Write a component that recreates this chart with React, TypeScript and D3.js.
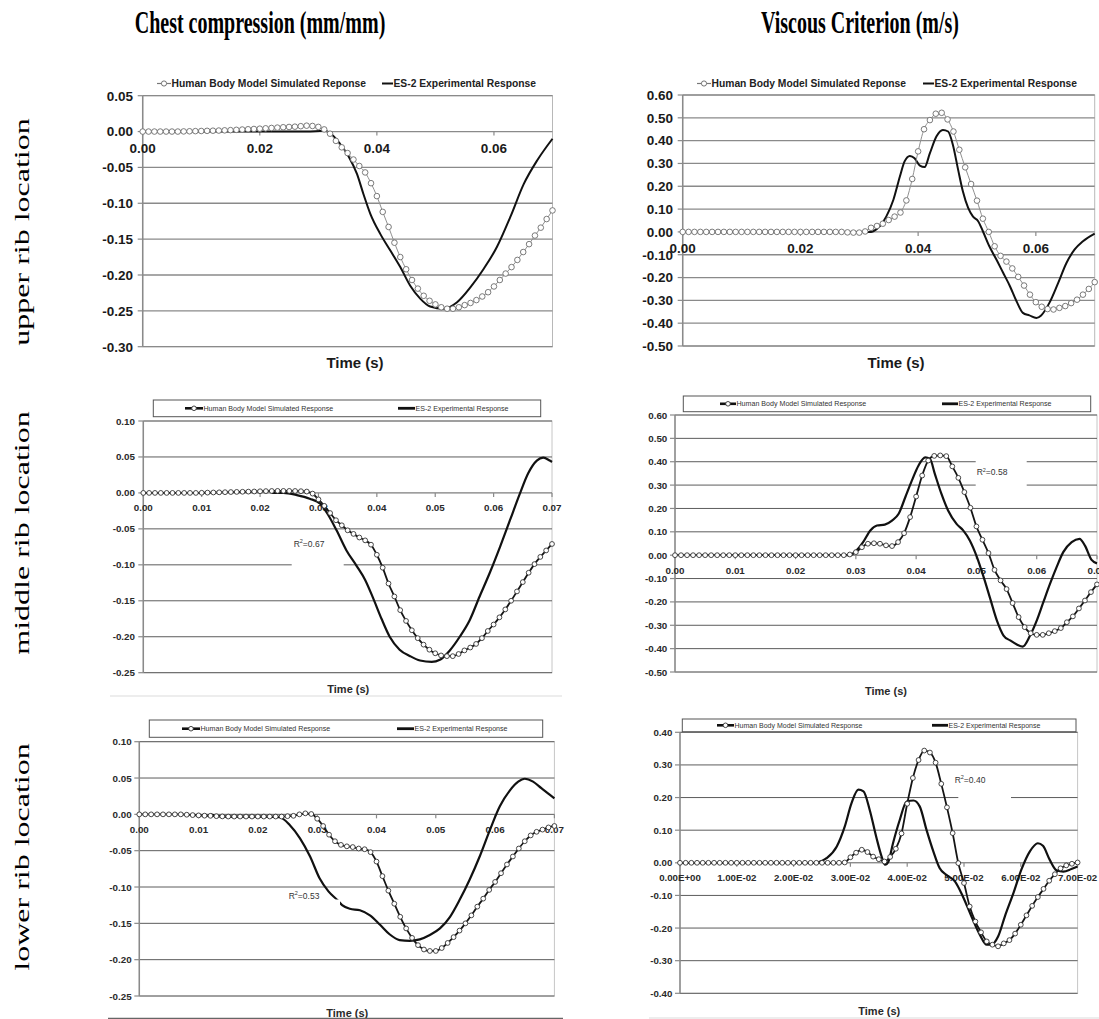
import * as d3 from "d3";

// sampling grid of the simulated responses (one marker per ms)
const TIME = d3.range(71).map((i) => i / 1000);

// tick values
const ccTopTicks = [0.05, 0, -0.05, -0.1, -0.15, -0.2, -0.25, -0.3];
const ccTicks = [0.1, 0.05, 0, -0.05, -0.1, -0.15, -0.2, -0.25];
const vcTicks = [0.6, 0.5, 0.4, 0.3, 0.2, 0.1, 0, -0.1, -0.2, -0.3, -0.4, -0.5];
const vcLowerTicks = [0.4, 0.3, 0.2, 0.1, 0, -0.1, -0.2, -0.3, -0.4];
const timeTicksCoarse = [0, 0.02, 0.04, 0.06];
const timeTicks = [0, 0.01, 0.02, 0.03, 0.04, 0.05, 0.06, 0.07];

const LEGEND_SIM_TOP = "Human Body Model Simulated Reponse";
const LEGEND_SIM = "Human Body Model Simulated Response";
const LEGEND_EXP = "ES-2 Experimental Response";

// simulated (human body model) responses, one value per TIME entry
const simUpperCC = [
  0, 0, 0, 0, 0, 0, 0, 0.0002, 0.0004, 0.0006,
  0.0008, 0.001, 0.0012, 0.0014, 0.0017, 0.002, 0.0024, 0.0028, 0.0032, 0.0036,
  0.004, 0.0045, 0.005, 0.0055, 0.006, 0.0064, 0.0068, 0.0075, 0.0082, 0.0078,
  0.0065, 0.003, -0.003, -0.013, -0.022, -0.03, -0.039, -0.048, -0.057, -0.072,
  -0.09, -0.112, -0.133, -0.155, -0.175, -0.192, -0.207, -0.219, -0.229, -0.236,
  -0.241, -0.245, -0.247, -0.247, -0.245, -0.242, -0.239, -0.235, -0.23, -0.224,
  -0.216, -0.207, -0.198, -0.189, -0.179, -0.168, -0.157, -0.145, -0.134, -0.122,
  -0.11,
];
const simUpperVC = [
  0, 0, 0, 0, 0, 0, 0, 0, 0, 0,
  0, 0, 0, 0, 0, 0, 0, 0, 0, 0,
  0, 0, 0, 0, 0, 0, 0, 0, -0.002, -0.003,
  -0.003, 0.002, 0.018, 0.026, 0.036, 0.052, 0.067, 0.085, 0.138, 0.232,
  0.353, 0.45, 0.49, 0.518, 0.522, 0.493, 0.44, 0.36, 0.283, 0.21,
  0.137, 0.058, 0, -0.063, -0.105, -0.13, -0.16, -0.197, -0.235, -0.275,
  -0.308, -0.328, -0.338, -0.34, -0.333, -0.325, -0.312, -0.297, -0.275, -0.25,
  -0.22,
];
const simMiddleCC = [
  0, 0, 0, 0, 0, 0, 0, 0, 0, 0,
  0.0002, 0.0004, 0.0006, 0.0008, 0.001, 0.0012, 0.0014, 0.0016, 0.0018, 0.002,
  0.0023, 0.0025, 0.0027, 0.0028, 0.0028, 0.0028, 0.0027, 0.0024, 0.0019, -0.001,
  -0.009, -0.018, -0.028, -0.038, -0.045, -0.052, -0.057, -0.062, -0.066, -0.072,
  -0.086, -0.104, -0.126, -0.144, -0.163, -0.178, -0.191, -0.202, -0.211, -0.218,
  -0.223, -0.226, -0.227, -0.227, -0.224, -0.219, -0.215, -0.21, -0.202, -0.192,
  -0.183, -0.173, -0.162, -0.15, -0.137, -0.124, -0.111, -0.099, -0.089, -0.08,
  -0.071,
];
const simMiddleVC = [
  0, 0, 0, 0, 0, 0, 0, 0, 0, 0,
  0, 0, 0, 0, 0, 0, 0, 0, 0, 0,
  0, 0, 0, 0, 0, 0, 0, 0, 0, 0.003,
  0.013, 0.034, 0.049, 0.051, 0.049, 0.042, 0.039, 0.056, 0.094, 0.163,
  0.251, 0.341, 0.405, 0.425, 0.427, 0.424, 0.38, 0.331, 0.27, 0.203,
  0.123, 0.066, 0.009, -0.063, -0.108, -0.145, -0.205, -0.265, -0.308, -0.334,
  -0.341, -0.341, -0.334, -0.325, -0.312, -0.287, -0.262, -0.228, -0.194, -0.158,
  -0.125,
];
const simLowerCC = [
  0, 0, 0, 0, 0, 0, 0, 0, -0.0005, -0.001,
  -0.0014, -0.0018, -0.002, -0.0025, -0.0028, -0.003, -0.003, -0.003, -0.003, -0.003,
  -0.003, -0.003, -0.003, -0.003, -0.003, -0.0025, -0.002, 0, 0.0014, 0.0005,
  -0.006, -0.016, -0.028, -0.037, -0.042, -0.044, -0.045, -0.047, -0.048, -0.052,
  -0.065, -0.085, -0.105, -0.123, -0.141, -0.157, -0.17, -0.18, -0.186, -0.188,
  -0.188, -0.184, -0.177, -0.169, -0.16, -0.15, -0.139, -0.127, -0.116, -0.104,
  -0.093, -0.081, -0.069, -0.058, -0.047, -0.037, -0.029, -0.024, -0.021, -0.018,
  -0.016,
];
const simLowerVC = [
  0, 0, 0, 0, 0, 0, 0, 0, 0, 0,
  0, 0, 0, 0, 0, 0, 0, 0, 0, 0,
  0, 0, 0, 0, 0, 0, 0, 0, 0, 0.001,
  0.017, 0.031, 0.04, 0.033, 0.019, 0.011, 0.004, 0.018, 0.043, 0.09,
  0.181, 0.26, 0.315, 0.344, 0.338, 0.307, 0.242, 0.17, 0.091, -0.001,
  -0.062, -0.134, -0.18, -0.213, -0.241, -0.251, -0.256, -0.247, -0.237, -0.217,
  -0.19, -0.161, -0.132, -0.105, -0.08, -0.055, -0.035, -0.017, -0.008, -0.003,
  0.001,
];

// ES-2 experimental responses, [time, value]
const expUpperCC: [number, number][] = [
  [0, 0], [0.028, 0], [0.031, 0.001], [0.032, -0.002], [0.0337, -0.017], [0.0352, -0.035],
  [0.0366, -0.059], [0.0377, -0.087], [0.0389, -0.115], [0.0406, -0.143], [0.0423, -0.166],
  [0.044, -0.189], [0.0457, -0.215], [0.0474, -0.233], [0.0491, -0.244], [0.0514, -0.247],
  [0.0537, -0.238], [0.056, -0.217], [0.0582, -0.192], [0.0605, -0.161], [0.0628, -0.119],
  [0.0651, -0.073], [0.0674, -0.04], [0.07, -0.01],
];
const expUpperVC: [number, number][] = [
  [0, 0], [0.032, 0], [0.0324, 0.003], [0.0335, 0.025], [0.0346, 0.068], [0.0358, 0.141],
  [0.0369, 0.243], [0.0377, 0.309], [0.0386, 0.333], [0.0394, 0.323], [0.0403, 0.29],
  [0.0411, 0.284], [0.042, 0.345], [0.0431, 0.418], [0.0442, 0.447], [0.0451, 0.44],
  [0.0459, 0.382], [0.0468, 0.272], [0.0476, 0.178], [0.0485, 0.105], [0.0493, 0.068],
  [0.0502, 0.047], [0.051, 0.003], [0.0521, -0.063], [0.0533, -0.121], [0.0544, -0.177],
  [0.0556, -0.238], [0.0567, -0.303], [0.0578, -0.355], [0.0589, -0.366], [0.0601, -0.377],
  [0.0609, -0.366], [0.0623, -0.311], [0.0638, -0.223], [0.0652, -0.136], [0.0666, -0.077],
  [0.068, -0.041], [0.07, -0.007],
];
const expMiddleCC: [number, number][] = [
  [0.022, 0], [0.024, 0], [0.0263, -0.003], [0.0285, -0.008], [0.0303, -0.015], [0.0317, -0.031],
  [0.0331, -0.052], [0.0348, -0.08], [0.0365, -0.101], [0.038, -0.121], [0.0394, -0.147],
  [0.0408, -0.175], [0.0422, -0.2], [0.0439, -0.218], [0.0457, -0.227], [0.0474, -0.233],
  [0.0494, -0.235], [0.0508, -0.232], [0.0525, -0.219], [0.0542, -0.2], [0.0559, -0.177],
  [0.0576, -0.144], [0.0594, -0.11], [0.0611, -0.075], [0.0628, -0.038], [0.0645, -0.001],
  [0.0659, 0.027], [0.0674, 0.045], [0.0685, 0.049], [0.0696, 0.045], [0.07, 0.043],
];
const expMiddleVC: [number, number][] = [
  [0.028, 0], [0.029, 0], [0.0301, 0.02], [0.0312, 0.056], [0.0324, 0.106], [0.0335, 0.127],
  [0.0348, 0.131], [0.036, 0.148], [0.0371, 0.177], [0.0382, 0.248], [0.0393, 0.32],
  [0.0404, 0.384], [0.0415, 0.419], [0.0423, 0.412], [0.0431, 0.348], [0.0442, 0.262],
  [0.0453, 0.191], [0.0467, 0.134], [0.0478, 0.106], [0.0489, 0.063], [0.0501, -0.009],
  [0.0512, -0.094], [0.0523, -0.187], [0.0534, -0.28], [0.0545, -0.344], [0.0556, -0.365],
  [0.0567, -0.382], [0.0577, -0.391], [0.0589, -0.344], [0.06, -0.28], [0.0611, -0.201],
  [0.0622, -0.123], [0.0633, -0.051], [0.0644, 0.013], [0.0658, 0.056], [0.0671, 0.07],
  [0.068, 0.041], [0.0691, -0.02], [0.07, -0.035],
];
const expLowerCC: [number, number][] = [
  [0.012, 0], [0.014, -0.003], [0.0215, -0.003], [0.0237, -0.004], [0.0254, -0.015],
  [0.0271, -0.033], [0.0288, -0.058], [0.0304, -0.088], [0.0319, -0.106], [0.0334, -0.118],
  [0.0342, -0.125], [0.0355, -0.13], [0.0372, -0.132], [0.0389, -0.139], [0.0406, -0.152],
  [0.0422, -0.165], [0.0439, -0.173], [0.0456, -0.174], [0.0473, -0.172], [0.049, -0.166],
  [0.0507, -0.157], [0.0524, -0.141], [0.054, -0.118], [0.0557, -0.09], [0.0574, -0.058],
  [0.0591, -0.022], [0.0608, 0.011], [0.0625, 0.033], [0.0639, 0.045], [0.065, 0.049],
  [0.0664, 0.045], [0.0678, 0.036], [0.0692, 0.027], [0.07, 0.022],
];
const expLowerVC: [number, number][] = [
  [0.024, 0], [0.0258, 0.014], [0.0276, 0.05], [0.029, 0.111], [0.0302, 0.183], [0.0314, 0.224],
  [0.0323, 0.219], [0.0334, 0.162], [0.0346, 0.076], [0.0355, 0.019], [0.0361, -0.006],
  [0.0367, 0.004], [0.0375, 0.06], [0.0387, 0.132], [0.0399, 0.188], [0.0411, 0.191],
  [0.0422, 0.173], [0.0434, 0.101], [0.0446, 0.035], [0.0457, -0.016], [0.0469, -0.037],
  [0.0484, -0.057], [0.0498, -0.103], [0.0513, -0.164], [0.0528, -0.221], [0.054, -0.251],
  [0.0548, -0.251], [0.056, -0.226], [0.0572, -0.164], [0.0587, -0.093], [0.0601, -0.021],
  [0.0616, 0.035], [0.063, 0.06], [0.0639, 0.052], [0.0651, 0.009], [0.0663, -0.023],
  [0.0675, -0.027], [0.0689, -0.019], [0.07, -0.011],
];

const SERIF = '"Liberation Serif", "Times New Roman", serif';
const SANS = '"Liberation Sans", Arial, sans-serif';

const fmt2 = (v: number) => v.toFixed(2);
const fmtExp = (v: number) => (v === 0 ? "0.00E+00" : `${(v * 100).toFixed(2)}E-02`);

type Box = [number, number, number, number];

interface PanelCfg {
  kind: "top" | "mid";
  x0: number; x1: number; yTop: number; yBot: number;
  yDomain: [number, number];
  yTicks: number[];
  xTicks: number[];
  xFmt: (v: number) => string;
  sim: number[];
  exp: [number, number][];
  tickFont: number;
  yLabelX: number;
  xLabelDy: number;
  legend: { y: number; simX: number; expX: number; simLen: number; expLen: number; simText: string; font: number; box?: Box };
  time: { x: number; y: number; size: number };
  r2?: { value: string; x: number; y: number; box: Box; onTop?: boolean };
  baseLine?: { y: number; xa: number; xb: number; color: string };
}

const STYLE = {
  top: { grid: "#8a8a8a", gridW: 1.3, border: "#b8b8b8", axis: "#8a8a8a", simLine: "#909090", simW: 1, circ: "#6c6c6c", r: 2.8, expW: 2, text: "#1a1a1a" },
  mid: { grid: "#5c5c5c", gridW: 1, border: "#c6c6c6", axis: "#8a8a8a", simLine: "#151515", simW: 1.8, circ: "#333", r: 2.4, expW: 2.2, text: "#2a2a2a" },
};

function Panel({ cfg }: { cfg: PanelCfg }) {
  const s = STYLE[cfg.kind];
  const x = d3.scaleLinear().domain([0, 0.07]).range([cfg.x0, cfg.x1]);
  const y = d3.scaleLinear().domain(cfg.yDomain).range([cfg.yTop, cfg.yBot]);
  const y0 = y(0);

  const line = d3.line<[number, number]>().x((d) => x(d[0])).y((d) => y(d[1])).curve(d3.curveMonotoneX);
  const simPts: [number, number][] = TIME.map((t, i) => [t, cfg.sim[i]]);

  const lg = cfg.legend;
  const top = cfg.kind === "top";
  const r2 = cfg.r2;
  const r2Box = r2 && (
    <rect x={r2.box[0]} y={r2.box[1]} width={r2.box[2]} height={r2.box[3]} fill="#fff" />
  );

  return (
    <g>
      {/* plot frame + gridlines */}
      <rect x={cfg.x0} y={cfg.yTop} width={cfg.x1 - cfg.x0} height={cfg.yBot - cfg.yTop} fill="none" stroke={s.border} strokeWidth={1} />
      {cfg.yTicks.map((v) => (
        <line key={v} x1={cfg.x0} x2={cfg.x1} y1={y(v)} y2={y(v)} stroke={s.grid} strokeWidth={s.gridW} />
      ))}
      <line x1={cfg.x0} x2={cfg.x0} y1={cfg.yTop} y2={cfg.yBot} stroke={s.axis} strokeWidth={1.5} />
      {cfg.yTicks.map((v) => (
        <line key={"t" + v} x1={cfg.x0 - 5} x2={cfg.x0} y1={y(v)} y2={y(v)} stroke={s.axis} strokeWidth={1.2} />
      ))}
      {cfg.xTicks.map((v) => (
        <line key={"x" + v} x1={x(v)} x2={x(v)} y1={y0} y2={y0 + 4} stroke={s.axis} strokeWidth={1.2} />
      ))}

      {/* tick labels */}
      <g fontFamily={SANS} fontWeight={700} fontSize={cfg.tickFont} fill={s.text}>
        {cfg.yTicks.map((v) => (
          <text key={v} x={cfg.yLabelX} y={y(v)} dy="0.36em" textAnchor="end">{fmt2(v)}</text>
        ))}
        {cfg.xTicks.map((v) => (
          <text key={"x" + v} x={x(v)} y={y0 + cfg.xLabelDy} textAnchor="middle">{cfg.xFmt(v)}</text>
        ))}
      </g>

      {r2 && !r2.onTop && r2Box}

      {/* series */}
      <path d={line(cfg.exp) ?? ""} fill="none" stroke="#111" strokeWidth={s.expW} strokeLinejoin="round" />
      <path d={line(simPts) ?? ""} fill="none" stroke={s.simLine} strokeWidth={s.simW} />
      {simPts.map((d, i) => (
        <circle key={i} cx={x(d[0])} cy={y(d[1])} r={s.r} fill="#fff" stroke={s.circ} strokeWidth={0.9} />
      ))}

      {/* R² label */}
      {r2 && r2.onTop && r2Box}
      {r2 && (
        <text x={r2.x} y={r2.y} dy="0.35em" textAnchor="middle" fontFamily={SANS} fontSize={8.5} fill="#333">
          R<tspan dy={-3.5} fontSize={5.5}>2</tspan><tspan dy={3.5}>={r2.value}</tspan>
        </text>
      )}

      {/* legend */}
      {lg.box && <rect x={lg.box[0]} y={lg.box[1]} width={lg.box[2]} height={lg.box[3]} fill="#fff" stroke="#555" strokeWidth={1} />}
      <g fontFamily={SANS} fontWeight={top ? 700 : 400} fontSize={lg.font} fill={top ? "#222" : "#333"}>
        <line x1={lg.simX} x2={lg.simX + lg.simLen} y1={lg.y} y2={lg.y} stroke={top ? "#777" : "#111"} strokeWidth={top ? 1.2 : 2.6} />
        <circle cx={lg.simX + lg.simLen / 2} cy={lg.y} r={top ? 2.6 : 2.3} fill="#fff" stroke={top ? "#666" : "#333"} strokeWidth={0.9} />
        <text x={lg.simX + lg.simLen + 0.5} y={lg.y} dy="0.35em">{lg.simText}</text>
        <line x1={lg.expX} x2={lg.expX + lg.expLen} y1={lg.y} y2={lg.y} stroke="#111" strokeWidth={top ? 2 : 2.8} />
        <text x={lg.expX + lg.expLen + 0.5} y={lg.y} dy="0.35em">{LEGEND_EXP}</text>
      </g>

      <text x={cfg.time.x} y={cfg.time.y} textAnchor="middle" fontFamily={SANS} fontWeight={700} fontSize={cfg.time.size} fill={s.text}>Time (s)</text>

      {cfg.baseLine && (
        <line x1={cfg.baseLine.xa} x2={cfg.baseLine.xb} y1={cfg.baseLine.y} y2={cfg.baseLine.y} stroke={cfg.baseLine.color} strokeWidth={1.2} />
      )}
    </g>
  );
}

const panels: PanelCfg[] = [
  {
    kind: "top", x0: 142.7, x1: 552.5, yTop: 95.7, yBot: 346.7, yDomain: [0.05, -0.3],
    yTicks: ccTopTicks, xTicks: timeTicksCoarse, xFmt: fmt2, sim: simUpperCC, exp: expUpperCC,
    tickFont: 13.5, yLabelX: 133, xLabelDy: 21,
    legend: { y: 83.5, simX: 157, expX: 382, simLen: 14, expLen: 11, simText: LEGEND_SIM_TOP, font: 10.3 },
    time: { x: 355, y: 368, size: 15 },
  },
  {
    kind: "top", x0: 682.7, x1: 1094.7, yTop: 95, yBot: 346, yDomain: [0.6, -0.5],
    yTicks: vcTicks, xTicks: timeTicksCoarse, xFmt: fmt2, sim: simUpperVC, exp: expUpperVC,
    tickFont: 13.5, yLabelX: 673, xLabelDy: 21,
    legend: { y: 83.5, simX: 697, expX: 923, simLen: 14, expLen: 11, simText: LEGEND_SIM_TOP, font: 10.3 },
    time: { x: 896, y: 368, size: 15 },
  },
  {
    kind: "mid", x0: 143.3, x1: 552, yTop: 421, yBot: 672.7, yDomain: [0.1, -0.25],
    yTicks: ccTicks, xTicks: timeTicks, xFmt: fmt2, sim: simMiddleCC, exp: expMiddleCC,
    tickFont: 9.8, yLabelX: 135, xLabelDy: 18.3,
    legend: { y: 408.3, simX: 185, expX: 398, simLen: 18, expLen: 17, simText: LEGEND_SIM, font: 7.1, box: [153.3, 400, 387.4, 16.7] },
    time: { x: 348.3, y: 693, size: 11 },
    r2: { value: "0.67", x: 309, y: 544, box: [291.7, 534, 52, 33] },
    baseLine: { y: 696, xa: 110, xb: 562, color: "#dcdcdc" },
  },
  {
    kind: "mid", x0: 675, x1: 1097, yTop: 415, yBot: 672, yDomain: [0.6, -0.5],
    yTicks: vcTicks, xTicks: timeTicks, xFmt: fmt2, sim: simMiddleVC, exp: expMiddleVC,
    tickFont: 9.8, yLabelX: 667.3, xLabelDy: 19,
    legend: { y: 403.8, simX: 720, expX: 942, simLen: 16, expLen: 16, simText: LEGEND_SIM, font: 7.1, box: [683.3, 396, 407.4, 15.7] },
    time: { x: 886, y: 694.5, size: 11 },
    r2: { value: "0.58", x: 992, y: 472.3, box: [975.7, 461, 51, 26] },
  },
  {
    kind: "mid", x0: 139.3, x1: 554.4, yTop: 741.7, yBot: 996, yDomain: [0.1, -0.25],
    yTicks: ccTicks, xTicks: timeTicks, xFmt: fmt2, sim: simLowerCC, exp: expLowerCC,
    tickFont: 9.8, yLabelX: 131.7, xLabelDy: 18.7,
    legend: { y: 728.7, simX: 182, expX: 397, simLen: 18, expLen: 17, simText: LEGEND_SIM, font: 7.1, box: [149.3, 720, 393.4, 17.3] },
    time: { x: 347.3, y: 1017, size: 11 },
    r2: { value: "0.53", x: 304, y: 895.7, box: [287, 899.5, 53, 13], onTop: true },
    baseLine: { y: 1018.3, xa: 108, xb: 563, color: "#666" },
  },
  {
    kind: "mid", x0: 680, x1: 1077.6, yTop: 732.3, yBot: 993.3, yDomain: [0.4, -0.4],
    yTicks: vcLowerTicks, xTicks: timeTicks, xFmt: fmtExp, sim: simLowerVC, exp: expLowerVC,
    tickFont: 9.7, yLabelX: 672.3, xLabelDy: 18.3,
    legend: { y: 725.3, simX: 717, expX: 932, simLen: 17, expLen: 16, simText: LEGEND_SIM, font: 7, box: [682.3, 719, 393.7, 12.7] },
    time: { x: 879.3, y: 1014.5, size: 11 },
    r2: { value: "0.40", x: 970, y: 779.7, box: [958.3, 768, 52.7, 33] },
    baseLine: { y: 1018, xa: 649, xb: 1099, color: "#dcdcdc" },
  },
];

const columnTitles = [
  { text: "Chest compression (mm/mm)", x: 260 },
  { text: "Viscous Criterion (m/s)", x: 860 },
];
const rowLabels = [
  { text: "upper rib location", y: 232 },
  { text: "middle rib location", y: 533 },
  { text: "lower rib location", y: 857 },
];

export default function App() {
  return (
    <svg width={1099} height={1019} style={{ position: "absolute", left: 0, top: 0, background: "#fff" }}>
      <rect width={1099} height={1019} fill="#fff" />
      {columnTitles.map((t) => (
        <text key={t.text} transform={`translate(${t.x},33) scale(0.625,1)`} textAnchor="middle" fontFamily={SERIF} fontWeight={700} fontSize={32} fill="#000">
          {t.text}
        </text>
      ))}
      {rowLabels.map((r) => (
        <text key={r.text} transform={`translate(29,${r.y}) scale(0.625,1) rotate(-90)`} textAnchor="middle" fontFamily={SERIF} fontSize={32} fill="#000">
          {r.text}
        </text>
      ))}
      {panels.map((p, i) => (
        <Panel key={i} cfg={p} />
      ))}
    </svg>
  );
}
